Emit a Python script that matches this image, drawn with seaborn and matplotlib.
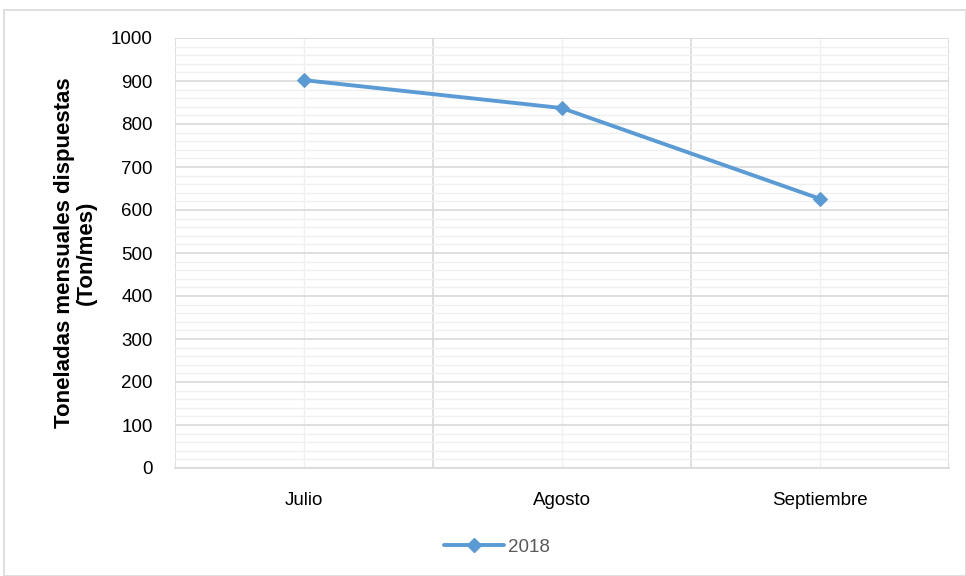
import matplotlib
matplotlib.use("Agg")
import matplotlib.pyplot as plt
import seaborn as sns
import pandas as pd
from matplotlib.lines import Line2D
from matplotlib.patches import Rectangle

meses = ["Julio", "Agosto", "Septiembre"]
toneladas_2018 = [902, 837, 626]
serie = "2018"

sns.set_theme(style="white")
plt.rcParams["font.family"] = ["Liberation Sans", "DejaVu Sans"]

df = pd.DataFrame({"mes": meses, "ton": toneladas_2018})
df["x"] = range(len(meses))

fig = plt.figure(figsize=(9.66, 5.76), dpi=100)
W, H = 966, 576
ax = fig.add_axes([175 / W, 1 - 468 / H, (949 - 175) / W, (468 - 38) / H])

color = "#5B9BD5"
sns.lineplot(data=df, x="x", y="ton", ax=ax, color=color, linewidth=2.8,
             marker="D", markersize=7.5, markeredgecolor=color, legend=False)

ax.set_xlim(-0.5, len(meses) - 0.5)
ax.set_ylim(0, 1000)
ax.set_yticks(range(0, 1001, 100))
ax.set_yticks(range(0, 1001, 20), minor=True)
ax.set_xticks(range(len(meses)))
ax.set_xticklabels(meses)
ax.set_xticks([i + 0.5 for i in range(-1, len(meses))], minor=True)

ax.grid(which="major", axis="y", color="#D9D9D9", linewidth=1.2)
ax.grid(which="minor", axis="y", color="#F0F0F0", linewidth=1.0)
ax.grid(which="minor", axis="x", color="#D9D9D9", linewidth=1.2)
ax.grid(which="major", axis="x", color="#F0F0F0", linewidth=1.0)
ax.set_axisbelow(True)

for s in ["top", "right", "left"]:
    ax.spines[s].set_visible(False)
ax.spines["bottom"].set_color("#D9D9D9")
ax.spines["bottom"].set_linewidth(1.2)

ax.tick_params(axis="both", which="both", length=0)
ax.tick_params(axis="y", labelsize=13.5, pad=16, colors="black")
ax.tick_params(axis="x", labelsize=13.5, pad=17, colors="black")

ax.set_xlabel("")
ax.set_ylabel("Toneladas mensuales dispuestas\n(Ton/mes)", fontsize=16,
              fontweight="bold", labelpad=10, linespacing=1.05, color="black")

handle = Line2D([], [], color=color, linewidth=2.8, marker="D", markersize=7.5)
leg = fig.legend([handle], [serie], loc="center", bbox_to_anchor=(497 / W, 1 - 547 / H),
                 frameon=False, fontsize=13.5, handlelength=3.2, handletextpad=0.2)
for t in leg.get_texts():
    t.set_color("#595959")

fig.patches.append(Rectangle((4 / W, 0), (W - 4) / W, 1 - 10 / H,
                             transform=fig.transFigure, fill=False,
                             edgecolor="#D9D9D9", linewidth=1.2))

fig.savefig("out.png", dpi=100, facecolor="white")
